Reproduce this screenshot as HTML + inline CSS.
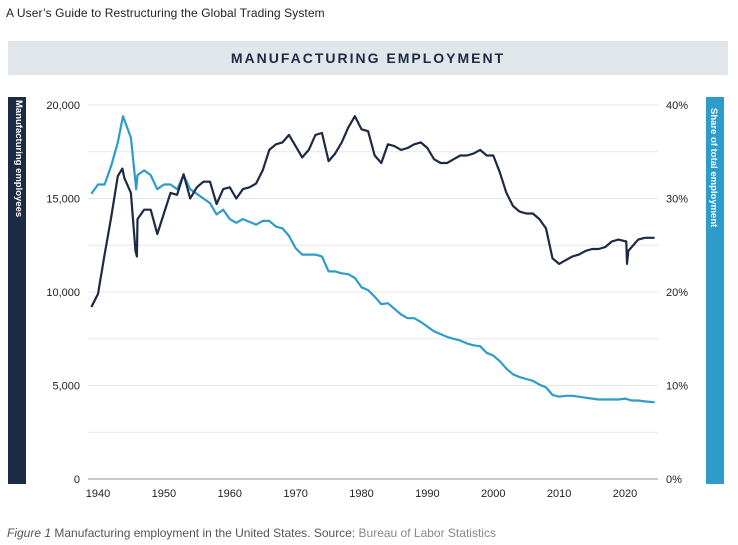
<!DOCTYPE html>
<html><head><meta charset="utf-8"><style>
body{margin:0;width:738px;height:545px;background:#fff;font-family:"Liberation Sans",sans-serif;overflow:hidden;position:relative}
.abs{position:absolute}
</style></head><body>
<div class="abs" style="left:6px;top:6px;font-size:12px;letter-spacing:0.1px;color:#222">A User’s Guide to Restructuring the Global Trading System</div>
<div class="abs" style="left:8px;top:41px;width:720px;height:34px;background:#e1e6ea;text-align:center;line-height:34px;font-weight:bold;font-size:14px;letter-spacing:2px;color:#1c2a43">MANUFACTURING EMPLOYMENT</div>
<div class="abs" style="left:8px;top:97px;width:18px;height:387px;background:#1c2a43"></div>
<div class="abs" style="left:17px;top:100px;transform-origin:0 0;transform:translate(-7px,0) rotate(90deg) translate(0,-14px);font-size:9.5px;font-weight:bold;color:#fff;white-space:nowrap;width:200px">Manufacturing employees</div>
<div class="abs" style="left:706px;top:97px;width:18px;height:387px;background:#2e9ccb"></div>
<div class="abs" style="left:719px;top:108px;transform-origin:0 0;transform:rotate(90deg);font-size:9.5px;font-weight:bold;color:#fff;white-space:nowrap">Share of total employment</div>
<svg class="abs" style="left:0;top:0" width="738" height="545" id="chart"></svg>
<div class="abs" style="left:7px;top:526px;font-size:12px;color:#555"><i>Figure 1</i> Manufacturing employment in the United States. Source: <span style="color:#888">Bureau of Labor Statistics</span></div>
<script>
const empYears=[1939,1940,1941,1942,1943,1943.7,1944,1945,1945.7,1945.9,1946,1947,1948,1949,1950,1951,1952,1953,1954,1955,1956,1957,1958,1959,1960,1961,1962,1963,1964,1965,1966,1967,1968,1969,1970,1971,1972,1973,1974,1975,1976,1977,1978,1979,1980,1981,1982,1983,1984,1985,1986,1987,1988,1989,1990,1991,1992,1993,1994,1995,1996,1997,1998,1999,2000,2001,2002,2003,2004,2005,2006,2007,2008,2009,2010,2011,2012,2013,2014,2015,2016,2017,2018,2019,2020.2,2020.3,2020.5,2021,2022,2023,2024.5];
const empValues=[9200,9900,12000,14000,16200,16600,16100,15300,12200,11900,13900,14400,14400,13100,14200,15300,15200,16300,15000,15600,15900,15900,14700,15500,15600,15000,15500,15600,15800,16500,17600,17900,18000,18400,17800,17200,17600,18400,18500,17000,17400,18000,18800,19400,18700,18600,17300,16900,17900,17800,17600,17700,17900,18000,17700,17100,16900,16900,17100,17300,17300,17400,17600,17300,17300,16400,15300,14600,14300,14200,14200,13900,13400,11800,11500,11700,11900,12000,12200,12300,12300,12400,12700,12800,12700,11500,12200,12400,12800,12900,12900];
const shareYears=[1939,1940,1941,1942,1943,1943.8,1945,1945.8,1946,1947,1948,1949,1950,1951,1952,1953,1954,1955,1956,1957,1958,1959,1960,1961,1962,1963,1964,1965,1966,1967,1968,1969,1970,1971,1972,1973,1974,1975,1976,1977,1978,1979,1980,1981,1982,1983,1984,1985,1986,1987,1988,1989,1990,1991,1992,1993,1994,1995,1996,1997,1998,1999,2000,2001,2002,2003,2004,2005,2006,2007,2008,2009,2010,2011,2012,2013,2014,2015,2016,2017,2018,2019,2020,2021,2022,2023,2024.5];
const shareValues=[30.5,31.5,31.5,33.5,36,38.8,36.5,31,32.5,33,32.5,31,31.5,31.5,31,32.5,31,30.5,30,29.5,28.3,28.8,27.8,27.4,27.8,27.5,27.2,27.6,27.6,27,26.8,26,24.7,24,24,24,23.8,22.2,22.2,22,21.9,21.5,20.5,20.2,19.5,18.7,18.8,18.2,17.6,17.2,17.2,16.8,16.3,15.8,15.5,15.2,15,14.8,14.5,14.3,14.2,13.5,13.2,12.6,11.8,11.2,10.9,10.7,10.5,10.1,9.8,9,8.8,8.9,8.9,8.8,8.7,8.6,8.5,8.5,8.5,8.5,8.6,8.4,8.4,8.3,8.2];
const leftTicks=[0,5000,10000,15000,20000];
const rightTicks=[0,10,20,30,40];
const xTicks=[1940,1950,1960,1970,1980,1990,2000,2010,2020];
const svg=document.getElementById('chart');const NS='http://www.w3.org/2000/svg';
const x=y=>98+(y-1940)*(527/80);
const yL=v=>479-v*(374/20000);
const yR=v=>479-v*(374/40);
function mk(t,a){const e=document.createElementNS(NS,t);for(const k in a)e.setAttribute(k,a[k]);svg.appendChild(e);return e;}
for(let i=0;i<=8;i++){const yy=479-i*374/8;
const g=mk('line',{x1:88,x2:658,y1:yy,y2:yy,stroke:i==0?'#8a949e':'#e3e7eb','stroke-width':1});

}
leftTicks.forEach(v=>{const t=mk('text',{x:80,y:yL(v)+4,'text-anchor':'end','font-size':11,fill:'#222'});t.textContent=v.toLocaleString('en-US');

});
rightTicks.forEach(v=>{const t=mk('text',{x:666,y:yR(v)+4,'font-size':11,fill:'#222'});t.textContent=v+'%';

});
xTicks.forEach(v=>{const t=mk('text',{x:x(v),y:497,'text-anchor':'middle','font-size':11,fill:'#222'});t.textContent=v;

});
const p1=mk('path',{d:shareYears.map((yy,i)=>(i?'L':'M')+x(yy).toFixed(1)+','+yR(shareValues[i]).toFixed(1)).join(''),fill:'none',stroke:'#2e9ccb','stroke-width':2.2,'stroke-linejoin':'round'});


const p2=mk('path',{d:empYears.map((yy,i)=>(i?'L':'M')+x(yy).toFixed(1)+','+yL(empValues[i]).toFixed(1)).join(''),fill:'none',stroke:'#1c2a43','stroke-width':2.2,'stroke-linejoin':'round'});


</script>
</body></html>
